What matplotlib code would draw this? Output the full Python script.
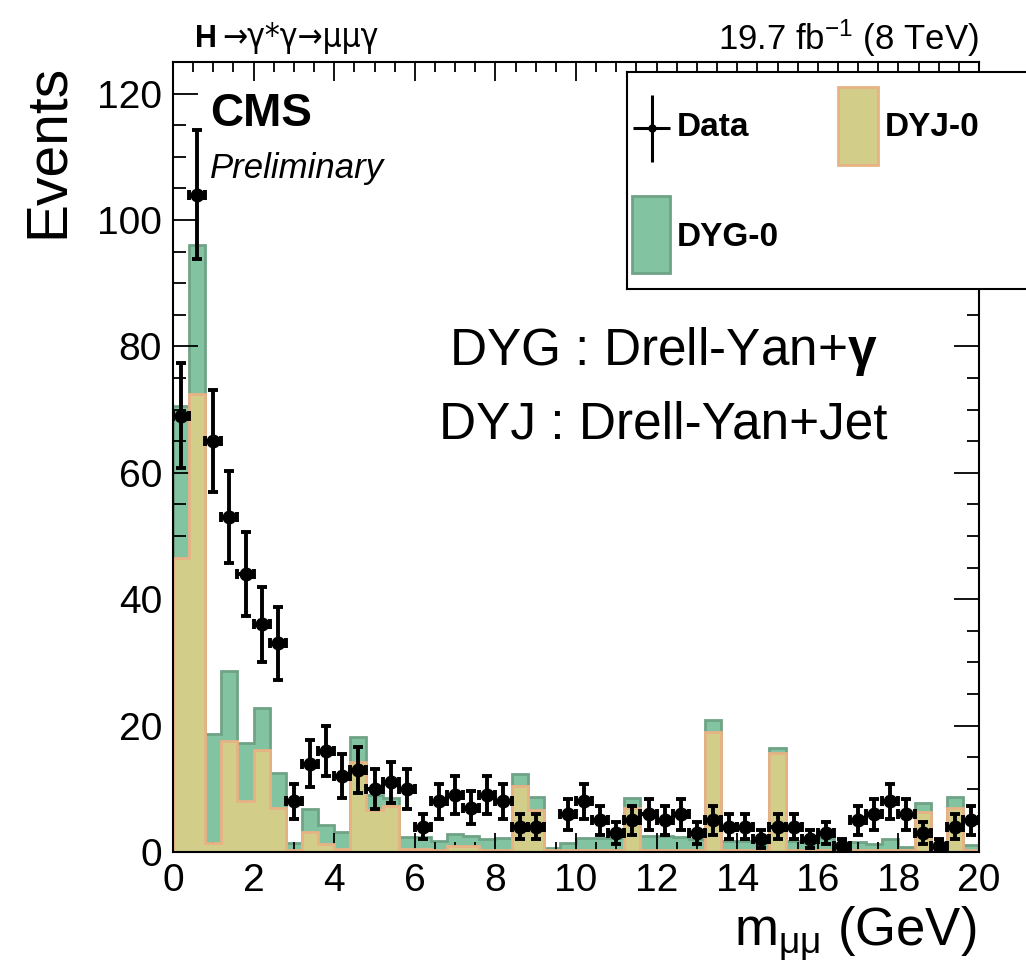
import numpy as np
import matplotlib
matplotlib.use("Agg")
import matplotlib.pyplot as plt
from matplotlib.patches import Rectangle
from matplotlib.ticker import MultipleLocator

plt.rcParams["font.family"] = ["Liberation Sans", "DejaVu Sans"]
plt.rcParams["mathtext.fontset"] = "custom"
plt.rcParams["mathtext.rm"] = "Liberation Sans"
plt.rcParams["mathtext.it"] = "Liberation Sans:italic"
plt.rcParams["mathtext.bf"] = "Liberation Sans:bold"

# 0.4 GeV bins from 0 to 20 GeV
bin_edges = np.arange(0, 20.01, 0.4)
bin_centers = 0.5 * (bin_edges[:-1] + bin_edges[1:])

# observed events per bin
data_counts = [69, 104, 65, 53, 44, 36, 33, 8, 14, 16,
               12, 13, 10, 11, 10, 4, 8, 9, 7, 9,
               8, 4, 4, 0, 6, 8, 5, 3, 5, 6,
               5, 6, 3, 5, 4, 4, 2, 4, 4, 2,
               3, 1, 5, 6, 8, 6, 3, 1, 4, 5]

# Drell-Yan + jet expectation (bottom of the stack)
dyj = [46.5, 72.5, 1.5, 17.5, 8.0, 16.1, 6.9, 0.3, 3.2, 1.3,
       0.4, 14.3, 6.6, 7.2, 0.4, 0.4, 0.3, 1.0, 1.0, 0.3,
       0.3, 10.4, 6.6, 0.3, 0.3, 0.3, 0.3, 0.3, 6.9, 0.3,
       0.3, 0.3, 0.3, 19.0, 0.3, 0.3, 0.3, 15.6, 0.3, 0.3,
       0.3, 0.3, 0.3, 0.3, 0.3, 0.3, 6.4, 0.3, 6.9, 0.3]

# Drell-Yan + photon expectation (stacked on top)
dyg = [24.0, 23.5, 17.2, 11.2, 9.3, 6.7, 5.6, 1.2, 3.6, 2.9,
       2.7, 3.9, 2.4, 1.3, 1.9, 1.9, 1.4, 1.8, 1.6, 1.7,
       1.9, 1.9, 2.1, 0.3, 1.1, 1.9, 1.9, 1.9, 1.6, 2.2,
       2.2, 2.0, 1.7, 1.9, 1.5, 1.5, 1.3, 0.8, 1.4, 1.3,
       1.9, 1.1, 1.3, 1.0, 1.7, 0.5, 1.3, 0.3, 1.8, 0.8]

dyj_face, dyj_edge = "#d3cd8a", "#e8b284"
dyg_face, dyg_edge = "#82c3a1", "#6fa386"

data_counts = np.array(data_counts, dtype=float)
dyj = np.array(dyj)
dyg = np.array(dyg)

fig = plt.figure(figsize=(10.26, 9.66), dpi=100)
ax = fig.add_axes([173 / 1026, 1 - 852 / 966, 806 / 1026, 790 / 966])

# stacked backgrounds
ax.stairs(dyj + dyg, bin_edges, fill=True, facecolor=dyg_face,
          edgecolor=dyg_edge, linewidth=2, zorder=1)
ax.stairs(dyj, bin_edges, fill=True, facecolor=dyj_face,
          edgecolor=dyj_edge, linewidth=2, zorder=2)

# data points with Poisson errors, empty bins skipped
nz = data_counts > 0
ax.errorbar(bin_centers[nz], data_counts[nz], xerr=0.2,
            yerr=np.sqrt(data_counts[nz]), fmt="o", color="black",
            markersize=9, elinewidth=2.8, capsize=3.5, capthick=2.8, zorder=5)

ax.set_xlim(0, 20)
ax.set_ylim(0, 125)
ax.xaxis.set_major_locator(MultipleLocator(2))
ax.xaxis.set_minor_locator(MultipleLocator(0.5))
ax.yaxis.set_major_locator(MultipleLocator(20))
ax.yaxis.set_minor_locator(MultipleLocator(5))
ax.tick_params(which="both", direction="in", top=True, right=True,
               width=1.3, labelsize=28)
ax.tick_params(axis="y", which="major", length=18, pad=8)
ax.tick_params(axis="y", which="minor", length=9)
ax.tick_params(axis="x", which="major", length=14, pad=8)
ax.tick_params(axis="x", which="minor", length=7)
for sp in ax.spines.values():
    sp.set_linewidth(1.5)

fig.text(48 / 1026, 1 - 64 / 966, "Events", rotation=90, ha="center",
         va="top", fontsize=41)
fig.text(976 / 1026, 1 - 945 / 966, "m$_{\\mathrm{μμ}}$ (GeV)", ha="right",
         va="baseline", fontsize=38)

# header
fig.text(195 / 1026, 1 - 47 / 966, "H", fontsize=22, fontweight="bold",
         va="baseline")
fig.text(222 / 1026, 1 - 47 / 966, "→γ*γ→μμγ", fontsize=24, va="baseline",
         family=["DejaVu Sans"], stretch="condensed")
fig.text(979 / 1026, 1 - 50 / 966, "19.7 fb$^{\\mathrm{-1}}$ (8 TeV)",
         fontsize=25, ha="right", va="baseline")

ax.text(210 / 1026, 1 - 92 / 966, "CMS", transform=fig.transFigure,
        fontsize=33, fontweight="bold", va="top")
ax.text(210 / 1026, 1 - 178 / 966, "Preliminary", transform=fig.transFigure,
        fontsize=25, style="italic", va="baseline")

ax.text(663 / 1026, 1 - 352 / 966, "DYG : Drell-Yan+$\\mathbf{γ}$",
        transform=fig.transFigure, fontsize=37, ha="center", va="center")
ax.text(663 / 1026, 1 - 425 / 966, "DYJ : Drell-Yan+Jet",
        transform=fig.transFigure, fontsize=37, ha="center", va="center")

# legend box
lax = fig.add_axes([627 / 1026, 1 - 289 / 966, 420 / 1026, 217 / 966])
lax.set_xlim(0, 420)
lax.set_ylim(217, 0)
lax.set_xticks([])
lax.set_yticks([])
for sp in lax.spines.values():
    sp.set_linewidth(1.5)
lax.errorbar([24.5], [56], xerr=18.5, yerr=33.5, fmt="o", color="black",
             markersize=5, elinewidth=2.2)
lax.text(50, 56, "Data", fontsize=24, fontweight="bold", va="center")
lax.add_patch(Rectangle((211, 15), 40, 78, facecolor=dyj_face,
                        edgecolor=dyj_edge, linewidth=2))
lax.text(258, 56, "DYJ-0", fontsize=24, fontweight="bold", va="center")
lax.add_patch(Rectangle((5, 124), 38, 77, facecolor=dyg_face,
                        edgecolor=dyg_edge, linewidth=2))
lax.text(50, 166, "DYG-0", fontsize=24, fontweight="bold", va="center")

fig.savefig("out.png", dpi=100)
